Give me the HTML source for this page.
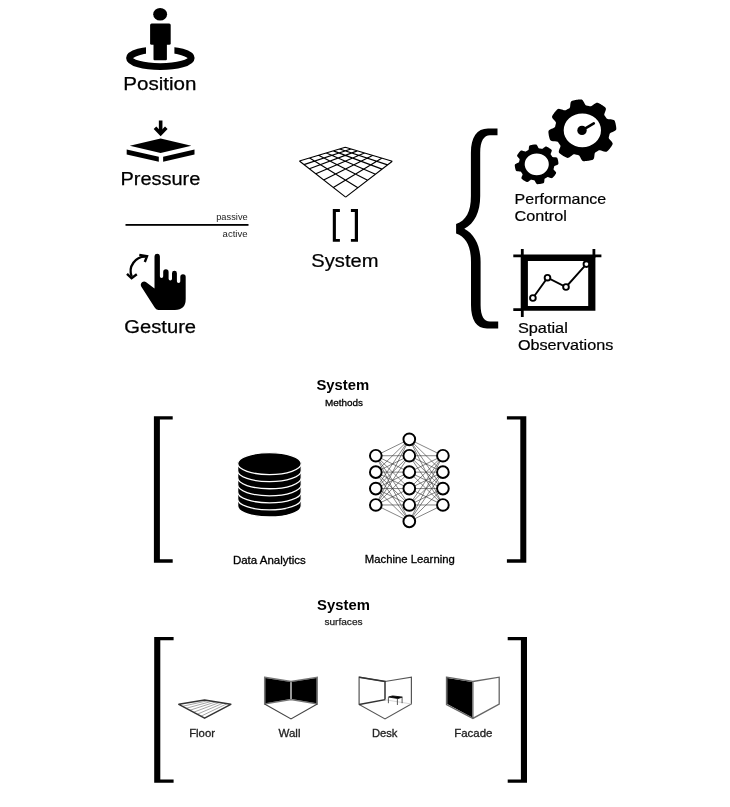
<!DOCTYPE html>
<html><head><meta charset="utf-8"><style>
html,body{margin:0;padding:0;background:#fff;width:730px;height:807px;overflow:hidden}
svg{display:block;will-change:transform}
text{font-family:"Liberation Sans",sans-serif}
</style></head><body>
<svg width="730" height="807" viewBox="0 0 730 807">
<rect width="730" height="807" fill="#fff"/>
<!-- Position icon -->
<ellipse cx="160.15" cy="14.3" rx="6.95" ry="6.3" fill="#000"/>
<ellipse cx="160.36" cy="58.05" rx="30.9" ry="8.55" fill="none" stroke="#000" stroke-width="6.7"/>
<rect x="146" y="40" width="28.4" height="14" fill="#fff"/>
<rect x="150.1" y="23.5" width="20.6" height="21.2" rx="1.5" fill="#000"/>
<rect x="153.5" y="40" width="13.4" height="20.3" rx="1" fill="#000"/>
<text x="123.3" y="89.7" font-size="17.8" font-weight="normal" fill="#000" textLength="73.2" lengthAdjust="spacingAndGlyphs" stroke="#000" stroke-width="0.25">Position</text>
<!-- Pressure icon -->
<path d="M160.65 120.5V132" stroke="#000" stroke-width="3.6"/>
<path d="M155 127.8L160.65 133.6L166.3 127.8" stroke="#000" stroke-width="3.6" fill="none"/>
<path d="M160.6 138.4L129.8 145.8L160.6 153.1L191.4 145.8Z" fill="#000"/>
<path d="M126.7 149.5L158.8 156.8V161.8L126.7 154.4Z" fill="#000"/>
<path d="M163.1 156.8L194.5 149.5V154.4L163.1 161.8Z" fill="#000"/>
<text x="120.4" y="184.5" font-size="18.3" font-weight="normal" fill="#000" textLength="80" lengthAdjust="spacingAndGlyphs" stroke="#000" stroke-width="0.25">Pressure</text>
<!-- passive/active -->
<text x="216.2" y="219.8" font-size="9" font-weight="normal" fill="#222" textLength="31.5" lengthAdjust="spacingAndGlyphs">passive</text>
<rect x="125.5" y="224" width="123" height="1.8" fill="#000"/>
<text x="222.6" y="237.4" font-size="9" font-weight="normal" fill="#222" textLength="25" lengthAdjust="spacingAndGlyphs">active</text>
<!-- Gesture icon -->
<path d="M131.7 276.5A14.5 14.5 0 0 1 145.8 256.7" stroke="#000" stroke-width="2.3" fill="none"/>
<path d="M127 273.8L131.6 278.2L136.8 274.2" stroke="#000" stroke-width="2.4" fill="none"/>
<path d="M139.3 255L147 256.3L144.8 262" stroke="#000" stroke-width="2.4" fill="none"/>
<path d="M154.5 256.5A2.7 2.7 0 0 1 159.9 256.5V276.3A1.65 1.65 0 0 0 163.2 276.3V271.9A2.7 2.7 0 0 1 168.6 271.9V278.8A1.7 1.7 0 0 0 172 278.8V273.3A2.45 2.45 0 0 1 176.9 273.3V281.3A1.7 1.7 0 0 0 180.3 281.3V276.9A2.7 2.7 0 0 1 185.7 276.9V299Q185.7 309.9 174.9 309.9H158.3Q156 309.9 154.5 307.3L141.2 286.6Q140 284.2 142 282.3Q144 280.6 146.2 282.2L154.5 288.6Z" fill="#000"/>
<text x="124.3" y="333.2" font-size="18" font-weight="normal" fill="#000" textLength="71.8" lengthAdjust="spacingAndGlyphs" stroke="#000" stroke-width="0.25">Gesture</text>
<!-- Grid -->
<path d="M345.65 197.10L299.40 161.00M345.65 197.10L392.30 161.30M357.90 187.70L309.61 157.95M333.33 187.48L381.69 158.14M367.62 180.24L318.54 155.29M323.64 179.92L372.48 155.40M375.52 174.18L326.41 152.94M315.83 173.82L364.42 153.00M382.07 169.15L333.41 150.85M309.39 168.80L357.30 150.87M387.59 164.92L339.67 148.98M303.99 164.58L350.97 148.99M392.30 161.30L345.30 147.30M299.40 161.00L345.30 147.30" stroke="#000" stroke-width="1.15" fill="none" stroke-linejoin="miter"/>
<!-- small brackets -->
<path d="M332.8 209.1H339.9V211.9H335.9V239H339.9V241.8H332.8Z" fill="#000"/>
<path d="M358 209.1H350.9V211.9H354.8V239H350.9V241.8H358Z" fill="#000"/>
<text x="311.3" y="266.6" font-size="17.5" font-weight="normal" fill="#000" textLength="67.2" lengthAdjust="spacingAndGlyphs" stroke="#000" stroke-width="0.2">System</text>
<!-- Curly brace -->
<path d="M497.5 128.5H488C477 128.5 470.9 137 470.9 153V196C470.9 212 466 220.5 456.1 224.1V233.6C466 237 471 246 471 262V305C471 320 476.5 328.5 487 328.5H498.2V321.6H490C484 321.6 480.6 316 480.6 305V262C480.6 246 474.5 234 464.3 228.8C474.5 223.5 480.2 212 480.2 196V153C480.2 141 484 135.3 490 135.3H497.5Z" fill="#000"/>
<!-- gears -->
<path d="M615.68 130.30L615.00 130.82L614.11 131.31L613.11 131.77L612.09 132.19L611.16 132.59L610.42 132.98L609.93 133.38L609.67 133.79L609.53 134.22L609.43 134.65L609.34 135.07L609.25 135.50L609.15 135.93L609.03 136.35L608.91 136.78L608.80 137.20L608.73 137.64L608.78 138.11L609.03 138.66L609.53 139.30L610.19 140.02L610.91 140.80L611.60 141.60L612.19 142.39L612.56 143.12L612.68 143.76L612.58 144.32L612.36 144.82L612.09 145.30L611.79 145.77L611.49 146.24L611.18 146.70L610.86 147.15L610.54 147.60L610.20 148.05L609.86 148.49L609.50 148.92L609.14 149.35L608.77 149.77L608.40 150.19L608.01 150.60L607.61 150.99L607.16 151.36L606.62 151.63L605.92 151.75L605.04 151.68L604.02 151.45L602.96 151.13L601.91 150.78L600.94 150.46L600.11 150.26L599.46 150.23L598.95 150.35L598.52 150.56L598.12 150.80L597.73 151.05L597.33 151.29L596.92 151.52L596.51 151.75L596.10 151.97L595.69 152.20L595.30 152.46L594.96 152.83L594.72 153.38L594.57 154.15L594.48 155.09L594.38 156.10L594.25 157.11L594.05 158.05L593.75 158.80L593.34 159.33L592.83 159.66L592.29 159.88L591.72 160.04L591.15 160.19L590.58 160.32L590.00 160.45L589.42 160.56L588.84 160.67L588.25 160.77L587.67 160.86L587.08 160.94L586.49 161.01L585.90 161.07L585.31 161.12L584.72 161.16L584.13 161.19L583.53 161.15L582.94 161.00L582.35 160.63L581.78 160.02L581.24 159.20L580.74 158.29L580.27 157.37L579.83 156.52L579.40 155.84L578.96 155.40L578.51 155.16L578.05 155.03L577.57 154.95L577.10 154.87L576.63 154.78L576.16 154.68L575.70 154.58L575.23 154.47L574.77 154.37L574.29 154.30L573.76 154.35L573.16 154.58L572.46 155.03L571.67 155.63L570.81 156.29L569.93 156.92L569.07 157.45L568.26 157.79L567.56 157.90L566.95 157.81L566.39 157.61L565.87 157.36L565.35 157.09L564.84 156.82L564.33 156.54L563.83 156.25L563.34 155.95L562.85 155.64L562.37 155.33L561.89 155.01L561.42 154.68L560.95 154.34L560.50 154.00L560.04 153.65L559.61 153.28L559.21 152.88L558.91 152.39L558.78 151.75L558.86 150.95L559.11 150.02L559.46 149.05L559.85 148.10L560.20 147.22L560.42 146.46L560.45 145.87L560.32 145.41L560.09 145.02L559.82 144.65L559.55 144.29L559.29 143.93L559.03 143.56L558.78 143.19L558.53 142.81L558.28 142.44L558.00 142.08L557.59 141.78L556.98 141.56L556.14 141.42L555.11 141.34L554.00 141.25L552.88 141.13L551.86 140.95L551.03 140.67L550.45 140.30L550.08 139.84L549.85 139.34L549.67 138.83L549.51 138.31L549.36 137.79L549.22 137.26L549.09 136.73L548.97 136.20L548.87 135.67L548.77 135.14L548.68 134.61L548.60 134.07L548.54 133.53L548.48 133.00L548.43 132.46L548.41 131.92L548.44 131.38L548.61 130.84L549.02 130.30L549.70 129.78L550.59 129.29L551.59 128.83L552.61 128.41L553.54 128.01L554.28 127.62L554.77 127.22L555.03 126.81L555.17 126.38L555.27 125.95L555.36 125.53L555.45 125.10L555.55 124.67L555.67 124.25L555.79 123.82L555.90 123.40L555.97 122.96L555.92 122.49L555.67 121.94L555.17 121.30L554.51 120.58L553.79 119.80L553.10 119.00L552.51 118.21L552.14 117.48L552.02 116.84L552.12 116.28L552.34 115.78L552.61 115.30L552.91 114.83L553.21 114.36L553.52 113.90L553.84 113.45L554.16 113.00L554.50 112.55L554.84 112.11L555.20 111.68L555.56 111.25L555.93 110.83L556.30 110.41L556.69 110.00L557.09 109.61L557.54 109.24L558.08 108.97L558.78 108.85L559.66 108.92L560.68 109.15L561.74 109.47L562.79 109.82L563.76 110.14L564.59 110.34L565.24 110.37L565.75 110.25L566.18 110.04L566.58 109.80L566.97 109.55L567.37 109.31L567.78 109.08L568.19 108.85L568.60 108.63L569.01 108.40L569.40 108.14L569.74 107.77L569.98 107.22L570.13 106.45L570.22 105.51L570.32 104.50L570.45 103.49L570.65 102.55L570.95 101.80L571.36 101.27L571.87 100.94L572.41 100.72L572.98 100.56L573.55 100.41L574.12 100.28L574.70 100.15L575.28 100.04L575.86 99.93L576.45 99.83L577.03 99.74L577.62 99.66L578.21 99.59L578.80 99.53L579.39 99.48L579.98 99.44L580.57 99.41L581.17 99.45L581.76 99.60L582.35 99.97L582.92 100.58L583.46 101.40L583.96 102.31L584.43 103.23L584.87 104.08L585.30 104.76L585.74 105.20L586.19 105.44L586.65 105.57L587.13 105.65L587.60 105.73L588.07 105.82L588.54 105.92L589.00 106.02L589.47 106.13L589.93 106.23L590.41 106.30L590.94 106.25L591.54 106.02L592.24 105.57L593.03 104.97L593.89 104.31L594.77 103.68L595.63 103.15L596.44 102.81L597.14 102.70L597.75 102.79L598.31 102.99L598.83 103.24L599.35 103.51L599.86 103.78L600.37 104.06L600.87 104.35L601.36 104.65L601.85 104.96L602.33 105.27L602.81 105.59L603.28 105.92L603.75 106.26L604.20 106.60L604.66 106.95L605.09 107.32L605.49 107.72L605.79 108.21L605.92 108.85L605.84 109.65L605.59 110.58L605.24 111.55L604.85 112.50L604.50 113.38L604.28 114.14L604.25 114.73L604.38 115.19L604.61 115.58L604.88 115.95L605.15 116.31L605.41 116.67L605.67 117.04L605.92 117.41L606.17 117.79L606.42 118.16L606.70 118.52L607.11 118.82L607.72 119.04L608.56 119.18L609.59 119.26L610.70 119.35L611.82 119.47L612.84 119.65L613.67 119.93L614.25 120.30L614.62 120.76L614.85 121.26L615.03 121.77L615.19 122.29L615.34 122.81L615.48 123.34L615.61 123.87L615.73 124.40L615.83 124.93L615.93 125.46L616.02 125.99L616.10 126.53L616.16 127.07L616.22 127.60L616.27 128.14L616.29 128.68L616.26 129.22L616.09 129.76ZM563.70 130.30A18.65 16.9 0 1 0 601.00 130.30A18.65 16.9 0 1 0 563.70 130.30Z" fill="#000" fill-rule="evenodd"/>
<circle cx="582" cy="130.4" r="4.7" fill="#000"/>
<path d="M582 130.4L593.8 123.3" stroke="#000" stroke-width="2.6" stroke-linecap="round"/>
<path d="M558.09 164.30L557.64 164.63L557.04 164.95L556.38 165.24L555.71 165.52L555.09 165.77L554.60 166.02L554.30 166.28L554.15 166.54L554.08 166.82L554.03 167.10L553.97 167.37L553.91 167.65L553.85 167.92L553.77 168.20L553.70 168.47L553.62 168.74L553.55 169.02L553.56 169.31L553.71 169.66L554.04 170.08L554.49 170.55L554.97 171.05L555.43 171.57L555.82 172.09L556.08 172.56L556.14 172.97L556.05 173.32L555.89 173.63L555.71 173.94L555.52 174.24L555.33 174.54L555.13 174.84L554.92 175.13L554.71 175.42L554.50 175.70L554.28 175.99L554.05 176.27L553.82 176.54L553.58 176.81L553.34 177.08L553.09 177.34L552.84 177.60L552.56 177.85L552.24 178.04L551.80 178.13L551.22 178.07L550.55 177.91L549.85 177.70L549.17 177.46L548.53 177.24L547.99 177.10L547.58 177.08L547.27 177.18L547.01 177.33L546.75 177.49L546.50 177.65L546.24 177.81L545.98 177.96L545.72 178.11L545.45 178.25L545.18 178.39L544.92 178.54L544.69 178.76L544.53 179.10L544.44 179.61L544.39 180.23L544.34 180.89L544.26 181.56L544.14 182.18L543.95 182.68L543.68 183.00L543.35 183.19L542.99 183.31L542.62 183.41L542.26 183.51L541.89 183.59L541.52 183.67L541.14 183.75L540.77 183.82L540.39 183.88L540.02 183.94L539.64 183.99L539.26 184.04L538.88 184.07L538.50 184.11L538.12 184.14L537.74 184.15L537.36 184.15L536.98 184.08L536.60 183.86L536.23 183.44L535.89 182.90L535.56 182.30L535.26 181.69L534.98 181.13L534.71 180.68L534.43 180.40L534.13 180.27L533.83 180.21L533.53 180.16L533.22 180.11L532.92 180.06L532.62 179.99L532.32 179.93L532.02 179.86L531.72 179.79L531.42 179.73L531.09 179.73L530.71 179.87L530.25 180.17L529.73 180.58L529.18 181.01L528.61 181.43L528.04 181.79L527.52 182.02L527.07 182.08L526.69 182.00L526.34 181.85L526.01 181.69L525.68 181.52L525.35 181.34L525.02 181.16L524.70 180.98L524.38 180.78L524.07 180.59L523.76 180.39L523.45 180.18L523.15 179.97L522.85 179.75L522.56 179.53L522.27 179.31L521.98 179.07L521.71 178.83L521.50 178.53L521.40 178.13L521.46 177.60L521.64 176.99L521.88 176.36L522.14 175.74L522.38 175.16L522.54 174.66L522.55 174.29L522.44 174.01L522.28 173.77L522.10 173.54L521.93 173.31L521.76 173.07L521.59 172.84L521.43 172.60L521.27 172.35L521.12 172.11L520.95 171.87L520.72 171.67L520.33 171.52L519.78 171.44L519.10 171.39L518.37 171.34L517.64 171.27L516.96 171.16L516.41 170.99L516.05 170.74L515.84 170.44L515.71 170.11L515.60 169.78L515.49 169.45L515.40 169.11L515.31 168.77L515.23 168.43L515.15 168.09L515.08 167.75L515.02 167.41L514.96 167.07L514.91 166.72L514.87 166.38L514.83 166.03L514.80 165.69L514.78 165.34L514.79 164.99L514.87 164.65L515.11 164.30L515.56 163.97L516.16 163.65L516.82 163.36L517.49 163.08L518.11 162.83L518.60 162.58L518.90 162.32L519.05 162.06L519.12 161.78L519.17 161.50L519.23 161.23L519.29 160.95L519.35 160.68L519.43 160.40L519.50 160.13L519.58 159.86L519.65 159.58L519.64 159.29L519.49 158.94L519.16 158.52L518.71 158.05L518.23 157.55L517.77 157.03L517.38 156.51L517.12 156.04L517.06 155.63L517.15 155.28L517.31 154.97L517.49 154.66L517.68 154.36L517.87 154.06L518.07 153.76L518.28 153.47L518.49 153.18L518.70 152.90L518.92 152.61L519.15 152.33L519.38 152.06L519.62 151.79L519.86 151.52L520.11 151.26L520.36 151.00L520.64 150.75L520.96 150.56L521.40 150.47L521.98 150.53L522.65 150.69L523.35 150.90L524.03 151.14L524.67 151.36L525.21 151.50L525.62 151.52L525.93 151.42L526.19 151.27L526.45 151.11L526.70 150.95L526.96 150.79L527.22 150.64L527.48 150.49L527.75 150.35L528.02 150.21L528.28 150.06L528.51 149.84L528.67 149.50L528.76 148.99L528.81 148.37L528.86 147.71L528.94 147.04L529.06 146.42L529.25 145.92L529.52 145.60L529.85 145.41L530.21 145.29L530.58 145.19L530.94 145.09L531.31 145.01L531.68 144.93L532.06 144.85L532.43 144.78L532.81 144.72L533.18 144.66L533.56 144.61L533.94 144.56L534.32 144.53L534.70 144.49L535.08 144.46L535.46 144.45L535.84 144.45L536.22 144.52L536.60 144.74L536.97 145.16L537.31 145.70L537.64 146.30L537.94 146.91L538.22 147.47L538.49 147.92L538.77 148.20L539.07 148.33L539.37 148.39L539.67 148.44L539.98 148.49L540.28 148.54L540.58 148.61L540.88 148.67L541.18 148.74L541.48 148.81L541.78 148.87L542.11 148.87L542.49 148.73L542.95 148.43L543.47 148.02L544.02 147.59L544.59 147.17L545.16 146.81L545.68 146.58L546.13 146.52L546.51 146.60L546.86 146.75L547.19 146.91L547.52 147.08L547.85 147.26L548.18 147.44L548.50 147.62L548.82 147.82L549.13 148.01L549.44 148.21L549.75 148.42L550.05 148.63L550.35 148.85L550.64 149.07L550.93 149.29L551.22 149.53L551.49 149.77L551.70 150.07L551.80 150.47L551.74 151.00L551.56 151.61L551.32 152.24L551.06 152.86L550.82 153.44L550.66 153.94L550.65 154.31L550.76 154.59L550.92 154.83L551.10 155.06L551.27 155.29L551.44 155.53L551.61 155.76L551.77 156.00L551.93 156.25L552.08 156.49L552.25 156.73L552.48 156.93L552.87 157.08L553.42 157.16L554.10 157.21L554.83 157.26L555.56 157.33L556.24 157.44L556.79 157.61L557.15 157.86L557.36 158.16L557.49 158.49L557.60 158.82L557.71 159.15L557.80 159.49L557.89 159.83L557.97 160.17L558.05 160.51L558.12 160.85L558.18 161.19L558.24 161.53L558.29 161.88L558.33 162.22L558.37 162.57L558.40 162.91L558.42 163.26L558.41 163.61L558.33 163.95ZM524.70 164.35A12.05 10.95 0 1 0 548.80 164.35A12.05 10.95 0 1 0 524.70 164.35Z" fill="#000" fill-rule="evenodd"/>
<text x="514.6" y="203.7" font-size="14.8" font-weight="normal" fill="#000" textLength="91.6" lengthAdjust="spacingAndGlyphs" stroke="#000" stroke-width="0.2">Performance</text>
<text x="514.6" y="220.9" font-size="14.8" font-weight="normal" fill="#000" textLength="52.2" lengthAdjust="spacingAndGlyphs" stroke="#000" stroke-width="0.2">Control</text>
<!-- chart frame -->
<path d="M520.8 255.1H595.4V310.8H520.8Z M527.9 261.1V305.9H588.2V261.1Z" fill="#000" fill-rule="evenodd"/>
<path d="M522.3 249V316.9M593.9 249V258M513.3 255.8H601.4M513.3 309.6H522" stroke="#000" stroke-width="2.8" fill="none"/>
<path d="M532.9 298L547.5 277.7L566 287L586.4 264.1" stroke="#000" stroke-width="1.9" fill="none"/>
<circle cx="532.9" cy="298" r="2.85" fill="#fff" stroke="#000" stroke-width="1.9"/>
<circle cx="547.5" cy="277.7" r="2.85" fill="#fff" stroke="#000" stroke-width="1.9"/>
<circle cx="566" cy="287" r="2.85" fill="#fff" stroke="#000" stroke-width="1.9"/>
<circle cx="586.4" cy="264.1" r="2.85" fill="#fff" stroke="#000" stroke-width="1.9"/>
<text x="517.9" y="332.5" font-size="14.2" font-weight="normal" fill="#000" textLength="49.9" lengthAdjust="spacingAndGlyphs" stroke="#000" stroke-width="0.2">Spatial</text>
<text x="517.9" y="349.8" font-size="14.2" font-weight="normal" fill="#000" textLength="95.4" lengthAdjust="spacingAndGlyphs" stroke="#000" stroke-width="0.2">Observations</text>
<!-- Section 2 -->
<text x="316.4" y="389.5" font-size="15.4" font-weight="bold" fill="#000" textLength="52.8" lengthAdjust="spacingAndGlyphs">System</text>
<text x="324.9" y="405.6" font-size="9.9" font-weight="normal" fill="#000" textLength="38" lengthAdjust="spacingAndGlyphs" stroke="#000" stroke-width="0.3">Methods</text>
<path d="M153.9 416.3H172.7V419.6H159.9V559.2H172.7V562.7H153.9Z" fill="#000"/>
<path d="M526.3 416.3H506.9V419.6H520.3V559.2H506.9V562.7H526.3Z" fill="#000"/>
<path d="M237.65 498.95L237.65 506.02A31.8 11.0 0 0 0 301.25 506.02L301.25 498.95A31.8 11.0 0 0 0 237.65 498.95Z" fill="#000" stroke="#fff" stroke-width="1.3"/><path d="M237.65 491.88L237.65 498.95A31.8 11.0 0 0 0 301.25 498.95L301.25 491.88A31.8 11.0 0 0 0 237.65 491.88Z" fill="#000" stroke="#fff" stroke-width="1.3"/><path d="M237.65 484.81L237.65 491.88A31.8 11.0 0 0 0 301.25 491.88L301.25 484.81A31.8 11.0 0 0 0 237.65 484.81Z" fill="#000" stroke="#fff" stroke-width="1.3"/><path d="M237.65 477.74L237.65 484.81A31.8 11.0 0 0 0 301.25 484.81L301.25 477.74A31.8 11.0 0 0 0 237.65 477.74Z" fill="#000" stroke="#fff" stroke-width="1.3"/><path d="M237.65 470.67L237.65 477.74A31.8 11.0 0 0 0 301.25 477.74L301.25 470.67A31.8 11.0 0 0 0 237.65 470.67Z" fill="#000" stroke="#fff" stroke-width="1.3"/><path d="M237.65 463.60L237.65 470.67A31.8 11.0 0 0 0 301.25 470.67L301.25 463.60A31.8 11.0 0 0 0 237.65 463.60Z" fill="#000" stroke="#fff" stroke-width="1.3"/><ellipse cx="269.45" cy="463.6" rx="31.8" ry="11.0" fill="#000" stroke="#fff" stroke-width="1.3"/>
<path d="M375.8 455.72L409.3 439.30M409.3 439.30L442.9 455.72M375.8 455.72L409.3 455.72M409.3 455.72L442.9 455.72M375.8 455.72L409.3 472.14M409.3 472.14L442.9 455.72M375.8 455.72L409.3 488.56M409.3 488.56L442.9 455.72M375.8 455.72L409.3 504.98M409.3 504.98L442.9 455.72M375.8 455.72L409.3 521.40M409.3 521.40L442.9 455.72M375.8 472.14L409.3 439.30M409.3 439.30L442.9 472.14M375.8 472.14L409.3 455.72M409.3 455.72L442.9 472.14M375.8 472.14L409.3 472.14M409.3 472.14L442.9 472.14M375.8 472.14L409.3 488.56M409.3 488.56L442.9 472.14M375.8 472.14L409.3 504.98M409.3 504.98L442.9 472.14M375.8 472.14L409.3 521.40M409.3 521.40L442.9 472.14M375.8 488.56L409.3 439.30M409.3 439.30L442.9 488.56M375.8 488.56L409.3 455.72M409.3 455.72L442.9 488.56M375.8 488.56L409.3 472.14M409.3 472.14L442.9 488.56M375.8 488.56L409.3 488.56M409.3 488.56L442.9 488.56M375.8 488.56L409.3 504.98M409.3 504.98L442.9 488.56M375.8 488.56L409.3 521.40M409.3 521.40L442.9 488.56M375.8 504.98L409.3 439.30M409.3 439.30L442.9 504.98M375.8 504.98L409.3 455.72M409.3 455.72L442.9 504.98M375.8 504.98L409.3 472.14M409.3 472.14L442.9 504.98M375.8 504.98L409.3 488.56M409.3 488.56L442.9 504.98M375.8 504.98L409.3 504.98M409.3 504.98L442.9 504.98M375.8 504.98L409.3 521.40M409.3 521.40L442.9 504.98" stroke="#333" stroke-width="0.6" fill="none"/><circle cx="375.8" cy="455.72" r="5.85" fill="#fff" stroke="#000" stroke-width="1.95"/><circle cx="375.8" cy="472.14" r="5.85" fill="#fff" stroke="#000" stroke-width="1.95"/><circle cx="375.8" cy="488.56" r="5.85" fill="#fff" stroke="#000" stroke-width="1.95"/><circle cx="375.8" cy="504.98" r="5.85" fill="#fff" stroke="#000" stroke-width="1.95"/><circle cx="409.3" cy="439.30" r="5.85" fill="#fff" stroke="#000" stroke-width="1.95"/><circle cx="409.3" cy="455.72" r="5.85" fill="#fff" stroke="#000" stroke-width="1.95"/><circle cx="409.3" cy="472.14" r="5.85" fill="#fff" stroke="#000" stroke-width="1.95"/><circle cx="409.3" cy="488.56" r="5.85" fill="#fff" stroke="#000" stroke-width="1.95"/><circle cx="409.3" cy="504.98" r="5.85" fill="#fff" stroke="#000" stroke-width="1.95"/><circle cx="409.3" cy="521.40" r="5.85" fill="#fff" stroke="#000" stroke-width="1.95"/><circle cx="442.9" cy="455.72" r="5.85" fill="#fff" stroke="#000" stroke-width="1.95"/><circle cx="442.9" cy="472.14" r="5.85" fill="#fff" stroke="#000" stroke-width="1.95"/><circle cx="442.9" cy="488.56" r="5.85" fill="#fff" stroke="#000" stroke-width="1.95"/><circle cx="442.9" cy="504.98" r="5.85" fill="#fff" stroke="#000" stroke-width="1.95"/>
<text x="232.9" y="563.7" font-size="10.8" font-weight="normal" fill="#000" textLength="72.8" lengthAdjust="spacingAndGlyphs" stroke="#000" stroke-width="0.3">Data Analytics</text>
<text x="364.8" y="563.3" font-size="10.8" font-weight="normal" fill="#000" textLength="90" lengthAdjust="spacingAndGlyphs" stroke="#000" stroke-width="0.3">Machine Learning</text>
<!-- Section 3 -->
<text x="317.1" y="609.5" font-size="15.4" font-weight="bold" fill="#000" textLength="52.8" lengthAdjust="spacingAndGlyphs">System</text>
<text x="324.4" y="625" font-size="9.9" font-weight="normal" fill="#222" textLength="38.2" lengthAdjust="spacingAndGlyphs" stroke="#222" stroke-width="0.25">surfaces</text>
<path d="M154.2 636.9H173.6V640.2H160.3V779.4H173.6V782.8H154.2Z" fill="#000"/>
<path d="M527 636.9H507.7V640.2H520.9V779.4H507.7V782.8H527Z" fill="#000"/>
<path d="M182.49 706.29L208.34 700.61M186.17 708.27L212.09 701.23M189.86 710.26L215.83 701.84M193.54 712.24L219.57 702.46M197.23 714.23L223.31 703.07M200.91 716.21L227.06 703.69" stroke="#888" stroke-width="0.75" fill="none"/><path d="M178.8 704.3L204.6 700L230.8 704.3L204.6 718.2Z" stroke="#333" stroke-width="1.5" fill="none" stroke-linejoin="round"/><path d="M264.6 677.2L291 681.5L317.3 677.2V704L291 699.7L264.6 704Z" stroke="#777" stroke-width="1.3" fill="none"/><path d="M265.3 678L290.4 682.1V699.1L265.3 703.2Z M291.6 682.1L316.6 678V703.2L291.6 699.1Z" fill="#000"/><path d="M264.6 704L291 718.9L317.3 704" stroke="#444" stroke-width="1.2" fill="none"/><path d="M359.1 677.2L385 681.5L411.4 677.2V704L385 718.9L359.1 704.5Z" stroke="#555" stroke-width="1.2" fill="none"/><path d="M359.1 677.2L385 681.5V699.7L359.1 704.5" stroke="#333" stroke-width="1.5" fill="none"/><path d="M385 699.7L411.4 704" stroke="#ccc" stroke-width="0.8" fill="none"/><path d="M388.6 697L392.6 695.9L402.3 697.1L398 698.6Z" fill="#000" stroke="#000" stroke-width="0.8"/><path d="M388.4 697.2V703.2M397.4 698.8V705M402.1 697.3V703.2" stroke="#333" stroke-width="0.8" fill="none"/><path d="M447.2 678L472.3 682.1V717.4L447.2 703.9Z" fill="#000"/><path d="M446.5 677.2L472.9 681.5L499.2 677.2V704L472.9 718.4L446.5 704.5Z M472.9 681.5V718.4" stroke="#666" stroke-width="1.3" fill="none"/>
<text x="189.2" y="737.2" font-size="10.8" font-weight="normal" fill="#222" textLength="25.8" lengthAdjust="spacingAndGlyphs" stroke="#222" stroke-width="0.3">Floor</text>
<text x="278.5" y="737.1" font-size="10.8" font-weight="normal" fill="#222" textLength="22" lengthAdjust="spacingAndGlyphs" stroke="#222" stroke-width="0.3">Wall</text>
<text x="371.9" y="737.1" font-size="10.8" font-weight="normal" fill="#222" textLength="25.6" lengthAdjust="spacingAndGlyphs" stroke="#222" stroke-width="0.3">Desk</text>
<text x="454.2" y="737.1" font-size="10.8" font-weight="normal" fill="#222" textLength="38.3" lengthAdjust="spacingAndGlyphs" stroke="#222" stroke-width="0.3">Facade</text>
</svg>
</body></html>
